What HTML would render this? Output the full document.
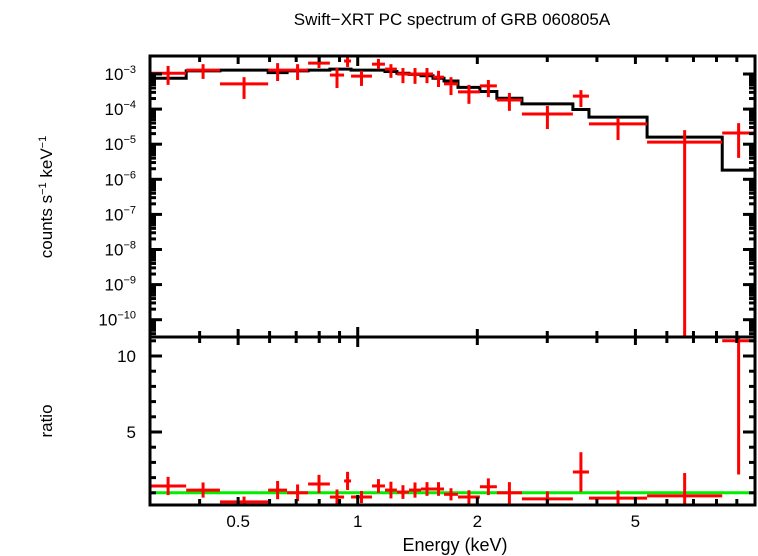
<!DOCTYPE html>
<html><head><meta charset="utf-8"><style>
body{margin:0;background:#fff}
svg{display:block;font-family:"Liberation Sans",sans-serif}
</style></head><body>
<svg id="c" width="758" height="556" viewBox="0 0 758 556"></svg>
<script>
const edges=[0.300,0.370,0.450,0.595,0.664,0.750,0.851,0.924,0.962,1.086,1.171,1.255,1.346,1.443,1.547,1.649,1.788,2.03,2.24,2.59,3.48,3.82,5.35,8.27,10.0];
const dataLog=[-2.98,-2.89,-3.28,-2.89,-2.89,-2.69,-3.03,-2.63,-3.06,-2.72,-2.86,-3.00,-3.00,-3.00,-3.09,-3.28,-3.51,-3.34,-3.74,-4.14,-3.63,-4.42,-4.94,-4.68];
const dataHiLog=[-2.77,-2.72,-3.09,-2.69,-2.72,-2.52,-2.83,-2.46,-2.91,-2.57,-2.72,-2.83,-2.83,-2.83,-2.91,-3.09,-3.31,-3.17,-3.54,-3.91,-3.46,-4.25,-4.60,-4.40];
const dataLoLog=[-3.31,-3.14,-3.71,-3.20,-3.17,-2.83,-3.40,-2.80,-3.34,-2.86,-3.11,-3.26,-3.28,-3.26,-3.37,-3.60,-3.85,-3.66,-4.05,-4.57,-3.94,-4.88,-12,-5.39];
const modelLog=[-3.12,-2.91,-2.89,-2.96,-2.91,-2.89,-2.86,-2.86,-2.89,-2.89,-2.93,-2.98,-3.01,-3.05,-3.12,-3.20,-3.38,-3.50,-3.69,-3.85,-4.01,-4.23,-4.80,-5.74];
const ratio=[1.45,1.18,0.4,1.18,1.0,1.58,0.72,1.78,0.72,1.45,1.18,1.05,1.18,1.25,1.25,0.9,0.72,1.4,1.0,0.6,2.37,0.65,0.8,11.0];
const ratioErr=[0.6,0.5,0.35,0.6,0.55,0.6,0.5,0.6,0.4,0.45,0.55,0.45,0.5,0.45,0.45,0.4,0.45,0.55,0.7,0.5,1.3,0.5,1.5,8.8];
const xTickMajor=[0.5,1,2,5];
const xTickMinor=[0.3,0.4,0.6,0.7,0.8,0.9,3,4,6,7,8,9];
const yDecades=[-3,-4,-5,-6,-7,-8,-9,-10];
const ratioMajor=[5,10];

const L=150,R=755,T1=56,B1=337,B2=505;
const lx0=Math.log10(0.3),lx1=Math.log10(10);
const X=e=>L+(Math.log10(e)-lx0)/(lx1-lx0)*(R-L);
const Y1=lv=>74+(-3-lv)*35.1;
const Y2=r=>492.8-(r-1)*15.2;
const svg=document.getElementById('c');
const NS='http://www.w3.org/2000/svg';
function mk(tag,attrs,parent){const el=document.createElementNS(NS,tag);for(const k in attrs)el.setAttribute(k,attrs[k]);(parent||svg).appendChild(el);return el;}
function line(x1,y1,x2,y2,stroke,w,p){return mk('line',{x1,y1,x2,y2,stroke,'stroke-width':w},p);}

const defs=mk('defs',{});
const cp1=mk('clipPath',{id:'cp1'},defs);mk('rect',{x:L,y:T1,width:R-L,height:B1-T1},cp1);
const cp2=mk('clipPath',{id:'cp2'},defs);mk('rect',{x:L,y:B1,width:R-L,height:B2-B1},cp2);

const gm=mk('g',{'clip-path':'url(#cp1)'});


let d='';
for(let i=0;i<modelLog.length;i++){const y=Y1(modelLog[i]);d+=(i?'L':'M')+X(edges[i])+','+y+'L'+X(edges[i+1])+','+y;}
mk('path',{d,fill:'none',stroke:'#000','stroke-width':3},gm);

const gd=mk('g',{'clip-path':'url(#cp1)'});


for(let i=0;i<dataLog.length;i++){
  const xc=Math.sqrt(edges[i]*edges[i+1]);
  const g=mk('g',{},gd);
  
  
  line(X(edges[i]),Y1(dataLog[i]),X(edges[i+1]),Y1(dataLog[i]),'#f00',3,g);
  line(X(xc),Y1(dataHiLog[i]),X(xc),Math.min(Y1(dataLoLog[i]),B1),'#f00',3,g);
}
const gr=mk('g',{'clip-path':'url(#cp2)'});


line(L,Y2(1),R,Y2(1),'#0e0',3,gr);
for(let i=0;i<ratio.length;i++){
  const xc=Math.sqrt(edges[i]*edges[i+1]);
  const g=mk('g',{},gr);
  
  
  line(X(edges[i]),Y2(ratio[i]),X(edges[i+1]),Y2(ratio[i]),'#f00',3,g);
  line(X(xc),Y2(ratio[i]+ratioErr[i]),X(xc),Y2(Math.max(ratio[i]-ratioErr[i],0.2)),'#f00',3,g);
}

const ga=mk('g',{});


mk('rect',{x:L,y:T1,width:R-L,height:B1-T1,fill:'none',stroke:'#000','stroke-width':3},ga);
mk('rect',{x:L,y:B1,width:R-L,height:B2-B1,fill:'none',stroke:'#000','stroke-width':3},ga);
function xt(e,len){const x=X(e);
  [[T1,1],[B1,-1],[B1,1],[B2,-1]].forEach(([y,s])=>line(x,y,x,y+s*len,'#000',3,ga));}
xTickMajor.forEach(e=>xt(e,e===1?10:8));
xTickMinor.forEach(e=>xt(e,6));
xTickMajor.forEach(e=>{const t=mk('text',{x:X(e),y:527,'text-anchor':'middle','font-size':17},ga);t.textContent=String(e);
  
  });
yDecades.forEach(dv=>{
  const y=Y1(dv);
  line(L,y,L+12,y,'#000',3,ga);line(R,y,R-12,y,'#000',3,ga);
  for(let m=2;m<10;m++){const ym=Y1(dv+Math.log10(m)-1);if(ym>T1&&ym<B1){line(L,ym,L+6,ym,'#000',3,ga);line(R,ym,R-6,ym,'#000',3,ga);}}
  const t=mk('text',{x:136,y:y+6,'text-anchor':'end','font-size':17},ga);
  
  
  t.innerHTML='10<tspan dy="-7" font-size="11">'+(dv<0?'\u2212'+(-dv):dv)+'</tspan>';
});
for(let r=1;r<=11;r++){const y=Y2(r);const len=ratioMajor.includes(r)?12:6;
  line(L,y,L+len,y,'#000',3,ga);line(R,y,R-len,y,'#000',3,ga);}
ratioMajor.forEach(r=>{const t=mk('text',{x:136,y:Y2(r)+6,'text-anchor':'end','font-size':17},ga);t.textContent=r;
  
  });

let t=mk('text',{x:452,y:25,'text-anchor':'middle','font-size':17});t.textContent='Swift\u2212XRT PC spectrum of GRB 060805A';


t=mk('text',{x:455,y:551,'text-anchor':'middle','font-size':18});t.textContent='Energy (keV)';


t=mk('text',{x:52,y:197,'text-anchor':'middle','font-size':17,transform:'rotate(-90 52 197)'});
t.innerHTML='counts s<tspan dy="-6" font-size="11">\u22121</tspan><tspan dy="6"> keV</tspan><tspan dy="-6" font-size="11">\u22121</tspan>';


t=mk('text',{x:52,y:421,'text-anchor':'middle','font-size':17,transform:'rotate(-90 52 421)'});t.textContent='ratio';


</script>
</body></html>
